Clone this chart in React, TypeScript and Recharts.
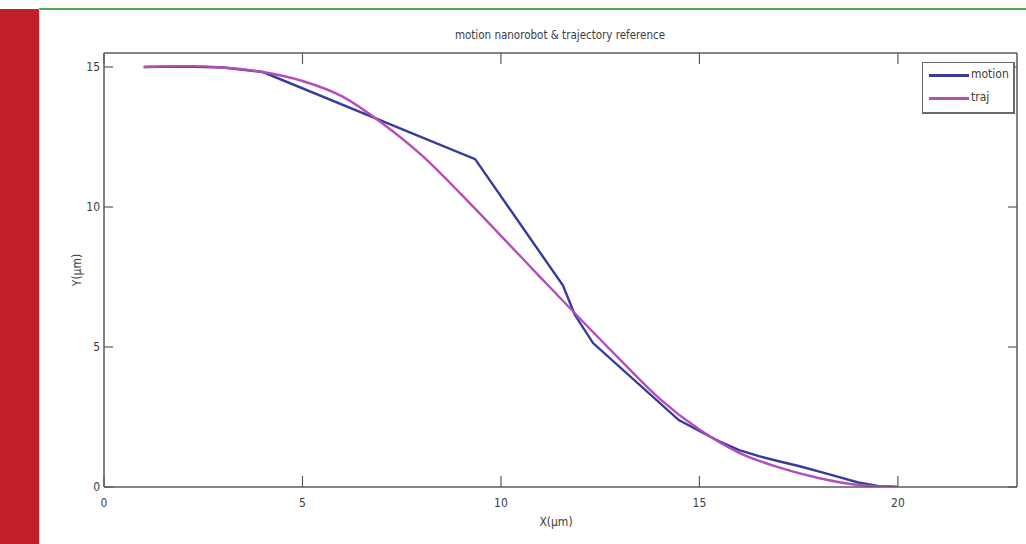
import React from 'react';
import { LineChart, Line, XAxis, YAxis, Label } from 'recharts';

const motionX = [1, 2, 3, 4.0, 9.35, 11.56, 11.86, 12.32, 14.48, 15, 15.5, 16, 16.5, 17, 17.5, 18, 18.5, 19, 19.5, 20];
const motionY = [15.0, 15.02, 14.98, 14.82, 11.71, 7.2, 6.15, 5.14, 2.39, 2.0, 1.63, 1.32, 1.1, 0.92, 0.75, 0.56, 0.36, 0.16, 0.04, 0];

const trajX = [1, 2, 3, 4, 5, 6, 7, 8, 9, 10, 11, 12, 13, 14, 15, 16, 17, 18, 19, 20];
const trajY = [15.0, 15.03, 14.98, 14.82, 14.5, 13.95, 13.0, 11.85, 10.45, 8.97, 7.48, 6.0, 4.55, 3.15, 2.05, 1.22, 0.7, 0.32, 0.07, 0];

const xTicks = [0, 5, 10, 15, 20];
const yTicks = [0, 5, 10, 15];

const SERIES = [
  { name: 'motion', color: '#363b9c' },
  { name: 'traj', color: '#b64db8' },
];

const motionData = motionX.map((x, i) => ({ x, y: motionY[i] }));
const trajData = trajX.map((x, i) => ({ x, y: trajY[i] }));

const FONT = "'Liberation Sans Narrow', 'DejaVu Sans Condensed', 'Roboto Condensed', Roboto, 'Liberation Sans', sans-serif";
const TXT = '#3c3c3c';
const AX = '#5a5a5a';

const BottomTick = (p: any) => (
  <g>
    <line x1={p.x} y1={p.y} x2={p.x} y2={p.y - 11} stroke={AX} strokeWidth={1.2} />
    <text x={p.x} y={p.y + 20} textAnchor="middle" fontFamily={FONT} fontSize={12} fill={TXT}>
      {p.payload.value}
    </text>
  </g>
);
const TopTick = (p: any) => (
  <line x1={p.x} y1={p.y} x2={p.x} y2={p.y + 11} stroke={AX} strokeWidth={1.2} />
);
const LeftTick = (p: any) => (
  <g>
    <line x1={p.x} y1={p.y} x2={p.x + 9} y2={p.y} stroke={AX} strokeWidth={1.2} />
    <text x={p.x - 4} y={p.y + 4} textAnchor="end" fontFamily={FONT} fontSize={12} fill={TXT}>
      {p.payload.value}
    </text>
  </g>
);
const RightTick = (p: any) => (
  <line x1={p.x} y1={p.y} x2={p.x - 9} y2={p.y} stroke={AX} strokeWidth={1.2} />
);

const LegendBox = () => (
  <div
    style={{
      position: 'absolute',
      left: 922,
      top: 62,
      width: 90,
      height: 49,
      border: '1px solid #6a6a6a',
      borderRight: '2px solid #6a6a6a',
      borderBottom: '2px solid #6a6a6a',
      background: '#fff',
      boxSizing: 'content-box',
      fontFamily: FONT,
      fontSize: 12,
      color: TXT,
    }}
  >
    {SERIES.map((s, i) => (
      <div key={s.name} style={{ position: 'relative', height: 23, marginTop: i === 0 ? 1 : 0 }}>
        <div style={{ position: 'absolute', left: 6, top: 10, width: 40, height: 3, background: s.color }} />
        <span style={{ position: 'absolute', left: 48, top: 3 }}>{s.name}</span>
      </div>
    ))}
  </div>
);

export default function App() {
  return (
    <div style={{ position: 'absolute', left: 0, top: 0, width: 1026, height: 544, background: '#fff', overflow: 'hidden' }}>
      <div style={{ position: 'absolute', left: 0, top: 9, width: 39, height: 535, background: '#c11f2a' }} />
      <div style={{ position: 'absolute', left: 39, top: 8, width: 987, height: 2, background: '#46ac4c' }} />
      <div style={{ position: 'absolute', left: 39, top: 9, width: 1, height: 535, background: '#d4eed6' }} />
      <div style={{ position: 'absolute', left: 0, top: 0 }}>
        <LineChart width={1026} height={544} margin={{ top: 52, right: 8, bottom: 27, left: 40 }}>
          <XAxis
            dataKey="x"
            type="number"
            domain={[0, 23]}
            ticks={xTicks}
            allowDataOverflow
            tickSize={0}
            tickMargin={0}
            tickLine={false}
            axisLine={{ stroke: AX, strokeWidth: 1.5 }}
            tick={BottomTick}
            height={30}
            interval={0}
          >
            <Label
              content={() => (
                <text x={556} y={526} textAnchor="middle" fontFamily={FONT} fontSize={12} fill={TXT}>
                  X(µm)
                </text>
              )}
            />
          </XAxis>
          <XAxis
            xAxisId="top"
            orientation="top"
            dataKey="x"
            type="number"
            domain={[0, 23]}
            ticks={xTicks}
            allowDataOverflow
            tickSize={0}
            tickMargin={0}
            tickLine={false}
            axisLine={{ stroke: AX, strokeWidth: 1.5 }}
            tick={TopTick}
            height={1}
            interval={0}
          >
            <Label
              content={() => (
                <text x={560} y={39} textAnchor="middle" fontFamily={FONT} fontSize={11.5} fill={TXT}>
                  motion nanorobot &amp; trajectory reference
                </text>
              )}
            />
          </XAxis>
          <YAxis
            type="number"
            domain={[0, 15.5]}
            ticks={yTicks}
            allowDataOverflow
            tickSize={0}
            tickMargin={0}
            tickLine={false}
            axisLine={{ stroke: AX, strokeWidth: 1.5 }}
            tick={LeftTick}
            width={64}
            interval={0}
          >
            <Label
              content={() => (
                <text
                  x={81}
                  y={270}
                  transform="rotate(-90 81 270)"
                  textAnchor="middle"
                  fontFamily={FONT}
                  fontSize={12}
                  fill={TXT}
                >
                  Y(µm)
                </text>
              )}
            />
          </YAxis>
          <YAxis
            yAxisId="right"
            orientation="right"
            type="number"
            domain={[0, 15.5]}
            ticks={yTicks}
            allowDataOverflow
            tickSize={0}
            tickMargin={0}
            tickLine={false}
            axisLine={{ stroke: AX, strokeWidth: 1.5 }}
            tick={RightTick}
            width={1}
            interval={0}
          />
          <Line
            data={motionData}
            dataKey="y"
            name="motion"
            type="linear"
            stroke={SERIES[0].color}
            strokeWidth={2.4}
            dot={false}
            isAnimationActive={false}
          />
          <Line
            data={trajData}
            dataKey="y"
            name="traj"
            type="monotone"
            stroke={SERIES[1].color}
            strokeWidth={2.4}
            dot={false}
            isAnimationActive={false}
          />
        </LineChart>
      </div>
      <LegendBox />
    </div>
  );
}
